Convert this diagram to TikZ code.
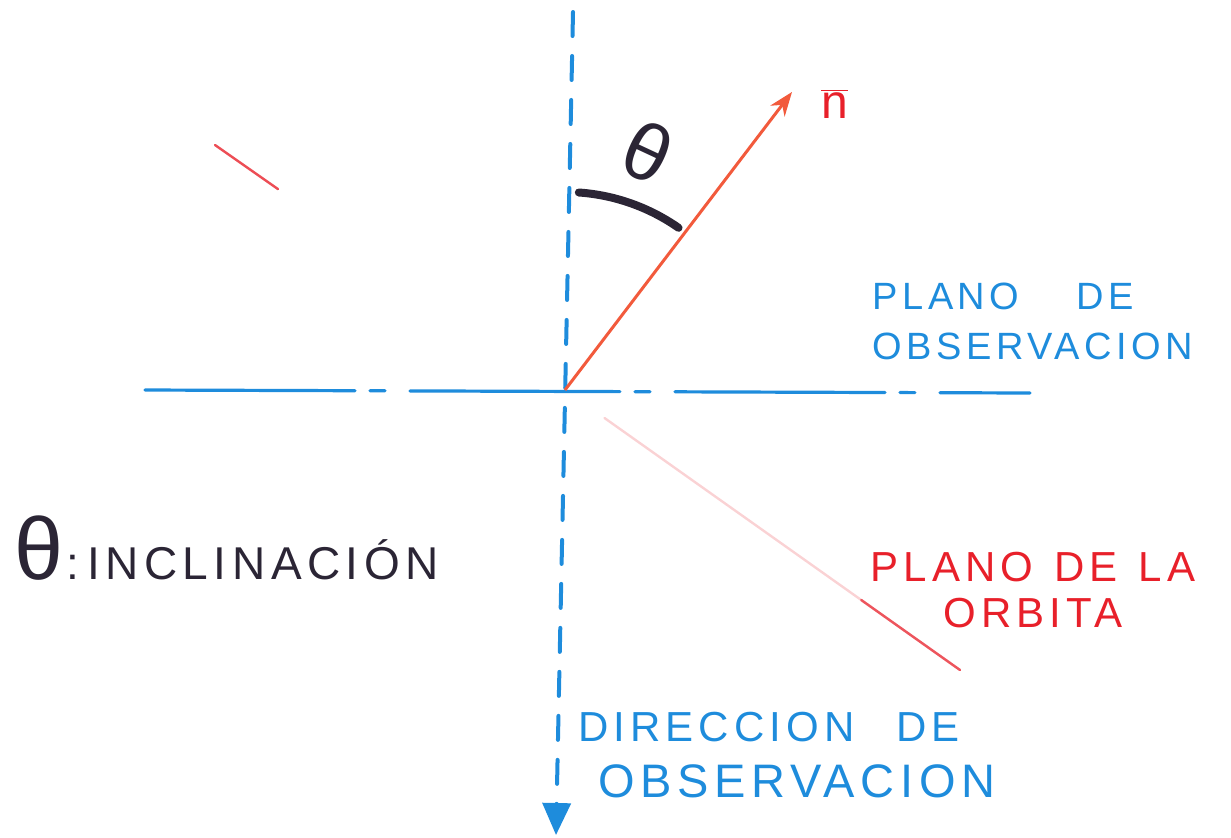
\documentclass[tikz,border=0pt]{standalone}
\usepackage{fontspec}
\setmainfont{Liberation Sans}
\newfontfamily\hand[LetterSpace=12]{Liberation Sans}
\usetikzlibrary{arrows.meta,calc}
\definecolor{penblue}{RGB}{30,140,220}
\definecolor{penred}{RGB}{232,32,42}
\definecolor{penorange}{RGB}{242,90,60}
\definecolor{penblack}{RGB}{43,37,53}
\tikzset{
  axisline/.style={penblue, line width=1.6pt, line cap=round},
  orbitline/.style={penred, line width=1.2pt, line cap=round},
  handtext/.style={inner sep=0pt, font=\hand},
}
\begin{document}
\begin{tikzpicture}[x=0.5pt, y=-0.5pt]
    \useasboundingbox (0,0) rectangle (1231,837);
    % Points of the sketch
    \coordinate (O) at (565,390);
    \coordinate (top) at (573,12);
    \coordinate (bottom) at (556,835);
    \coordinate (west) at (145,390);
    \coordinate (east) at (1030,393);
    \coordinate (tip) at (792,92);
    \coordinate (orbA) at (215,145);
    \coordinate (orbB) at (960,670);

    % Plane of observation (dash-dot)
    \draw[axisline, dash pattern=on 105pt off 7.5pt on 7.5pt off 12.5pt] (west) -- (east);
    % Line of sight, pointing down
    \draw[axisline, line width=2pt, dash pattern=on 12pt off 10pt, -{Triangle[length=16pt,width=14pt]}] (top) -- (bottom);

    % Plane of the orbit: a faint red stroke
    \draw[orbitline, opacity=0.8] (orbA) -- ($(orbA)!0.18!(O)$);
    \draw[orbitline, opacity=0.2] ($(O)!0.1!(orbB)$) -- (orbB);
    \draw[orbitline, opacity=0.7] ($(O)!0.75!(orbB)$) -- (orbB);

    % Normal vector
    \draw[penorange, line width=1.5pt, -{Stealth[length=12pt,width=9pt]}] (O) -- (tip);
    \node[penred, font=\fontsize{24}{24}\selectfont, anchor=west] (nlabel) at (814,104) {$\overline{\mbox{n}}$};

    % Inclination angle
    \draw[penblack, line width=4pt, line cap=round] (O) ++(-86:198) arc (-86:-55:198);
    \node[penblack, font=\fontsize{40}{40}\selectfont, rotate=-25] (theta) at (648,152) {θ};

    % Labels
    \node[handtext, penblack, anchor=west] (legend) at (14,548)
        {{\fontsize{44}{44}\selectfont θ}\,{\fontsize{23}{23}\selectfont:\,INCLINACIÓN}};
    \node[handtext, penblue, anchor=north west, align=left, font=\hand\fontsize{19}{25}\selectfont] (obsplane) at (872,283)
        {PLANO\quad\enspace DE\\OBSERVACION};
    \node[handtext, penred, align=center, font=\hand\fontsize{21}{23}\selectfont] (orbplane) at (1033,590)
        {PLANO\enspace DE\enspace LA\\ORBITA};
    \node[handtext, penblue, anchor=north west, align=left, font=\hand\fontsize{21}{28}\selectfont] (losdir) at (578,712)
        {DIRECCION\quad DE\\\hspace{10pt}{\fontsize{23.5}{28}\selectfont OBSERVACION}};
\end{tikzpicture}
\end{document}
